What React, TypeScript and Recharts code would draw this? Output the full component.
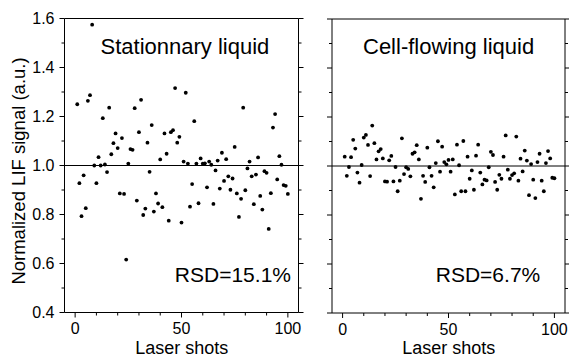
import React from 'react';
import { ScatterChart, Scatter, XAxis, YAxis, ReferenceLine } from 'recharts';

const FONT = '"Liberation Sans", Arial, Helvetica, sans-serif';

const shots = [
  1, 2, 3, 4, 5, 6, 7, 8, 9, 10, 11, 12, 13, 14, 15, 16, 17, 18, 19, 20,
  21, 22, 23, 24, 25, 26, 27, 28, 29, 30, 31, 32, 33, 34, 35, 36, 37, 38, 39, 40,
  41, 42, 43, 44, 45, 46, 47, 48, 49, 50, 51, 52, 53, 54, 55, 56, 57, 58, 59, 60,
  61, 62, 63, 64, 65, 66, 67, 68, 69, 70, 71, 72, 73, 74, 75, 76, 77, 78, 79, 80,
  81, 82, 83, 84, 85, 86, 87, 88, 89, 90, 91, 92, 93, 94, 95, 96, 97, 98, 99, 100,
];

const stationaryValues = [
  1.25, 0.928, 0.793, 0.96, 0.826, 1.264, 1.287, 1.575, 1.0, 0.928,
  1.034, 1.0, 1.193, 1.004, 0.973, 1.236, 1.046, 1.091, 1.131, 1.071,
  0.886, 1.112, 0.884, 0.616, 1.008, 1.067, 1.064, 1.234, 0.857, 1.136,
  1.268, 0.798, 0.824, 1.093, 0.974, 1.165, 0.812, 0.886, 0.845, 1.025,
  0.83, 1.131, 1.048, 0.775, 1.136, 1.144, 1.316, 1.093, 1.117, 0.767,
  1.016, 1.297, 1.008, 0.832, 0.924, 1.181, 1.008, 0.846, 1.029, 1.008,
  1.009, 0.911, 1.016, 1.003, 0.843, 0.98, 1.02, 0.906, 1.052, 0.937,
  1.026, 0.956, 0.901, 0.947, 1.076, 0.886, 0.79, 0.864, 1.236, 0.899,
  0.988, 1.016, 0.956, 0.842, 0.963, 1.033, 0.876, 0.82, 0.977, 0.97,
  0.741, 0.887, 1.155, 1.21, 0.943, 1.038, 1.003, 0.92, 0.917, 0.884,
];

const flowingValues = [
  1.038, 0.96, 0.996, 1.036, 1.107, 1.071, 0.973, 0.932, 1.004, 1.116,
  1.127, 1.086, 0.959, 1.165, 1.093, 1.027, 1.06, 1.069, 1.031, 0.937,
  0.936, 1.023, 1.041, 0.937, 0.996, 0.897, 0.94, 1.113, 0.967, 0.995,
  0.988, 0.958, 1.05, 1.056, 1.085, 1.027, 0.866, 0.96, 0.935, 1.075,
  0.995, 0.96, 0.913, 1.012, 1.101, 0.977, 1.079, 1.016, 1.007, 1.025,
  0.977, 1.027, 0.884, 1.087, 1.003, 0.897, 1.102, 0.897, 1.038, 0.948,
  0.982, 0.903, 1.042, 1.087, 0.973, 0.925, 0.944, 0.941, 0.995, 1.058,
  1.045, 0.935, 0.903, 0.964, 0.948, 1.038, 1.125, 0.985, 0.948, 0.963,
  0.97, 1.12, 0.94, 1.03, 0.978, 1.063, 1.022, 0.881, 1.008, 0.944,
  0.869, 1.016, 1.05, 0.94, 0.897, 1.012, 1.061, 1.031, 0.952, 0.95,
];

const xTicks = [0, 10, 20, 30, 40, 50, 60, 70, 80, 90, 100];
const yTicks = [0.4, 0.5, 0.6, 0.7, 0.8, 0.9, 1.0, 1.1, 1.2, 1.3, 1.4, 1.5, 1.6];
const xDomain = [-5, 105];
const yDomain = [0.4, 1.6];
const panelTitles = ['Stationnary liquid', 'Cell-flowing liquid'];
const rsdLabels = ['RSD=15.1%', 'RSD=6.7%'];
const xAxisTitle = 'Laser shots';
const yAxisTitle = 'Normalized LIF signal (a.u.)';

const XTick = (props: any) => {
  const { x, y, payload, dir, showLabel, color } = props;
  const major = payload.value % 50 === 0;
  const len = major ? 5 : 3;
  return (
    <g>
      <line x1={x} x2={x} y1={y} y2={y + dir * len} stroke={color} strokeWidth={1} />
      {showLabel && major && (
        <text x={x} y={y + 21.5} textAnchor="middle" fontFamily={FONT} fontSize={16} fill="#000">
          {payload.value}
        </text>
      )}
    </g>
  );
};

const YTick = (props: any) => {
  const { x, y, payload, dir, showLabel, color } = props;
  const major = Math.round(payload.value * 10) % 2 === 0;
  const len = major ? 5 : 3;
  return (
    <g>
      <line x1={x} x2={x + dir * len} y1={y} y2={y} stroke={color} strokeWidth={1} />
      {showLabel && major && (
        <text x={x - 10} y={y} dy="0.36em" textAnchor="end" fontFamily={FONT} fontSize={16} fill="#000">
          {payload.value.toFixed(1)}
        </text>
      )}
    </g>
  );
};

const Dot = (p: any) => <circle cx={p.cx} cy={p.cy} r={1.9} fill="#000" />;

function Panel(props: any) {
  const { values, width, margin, showYLabels, yWidth, color, left } = props;
  const data = shots.map((s, i) => ({ x: s, y: values[i] }));
  return (
    <div style={{ position: 'absolute', left, top: 0 }}>
      <ScatterChart width={width} height={358} margin={margin}>
        <XAxis
          dataKey="x"
          type="number"
          domain={xDomain}
          ticks={xTicks}
          interval={0}
          height={30}
          tickSize={0}
          tickMargin={0}
          tickLine={false}
          axisLine={{ stroke: color }}
          allowDataOverflow
          tick={(p: any) => <XTick {...p} dir={1} showLabel color={color} />}
        />
        <XAxis
          xAxisId="top"
          orientation="top"
          type="number"
          domain={xDomain}
          ticks={xTicks}
          interval={0}
          height={10}
          tickSize={0}
          tickMargin={0}
          tickLine={false}
          axisLine={{ stroke: color }}
          allowDataOverflow
          tick={(p: any) => <XTick {...p} dir={-1} color={color} />}
        />
        <YAxis
          dataKey="y"
          type="number"
          domain={yDomain}
          ticks={yTicks}
          interval={0}
          width={yWidth}
          tickSize={0}
          tickMargin={0}
          tickLine={false}
          axisLine={{ stroke: color }}
          allowDataOverflow
          tick={(p: any) => <YTick {...p} dir={-1} showLabel={showYLabels} color={color} />}
        />
        <YAxis
          yAxisId="right"
          orientation="right"
          type="number"
          domain={yDomain}
          ticks={yTicks}
          interval={0}
          width={props.rightWidth}
          tickSize={0}
          tickMargin={0}
          tickLine={false}
          axisLine={{ stroke: color }}
          allowDataOverflow
          tick={(p: any) => <YTick {...p} dir={1} color={color} />}
        />
        <ReferenceLine y={1} stroke={color} strokeWidth={1} ifOverflow="extendDomain" />
        <Scatter data={data} isAnimationActive={false} shape={Dot} />
      </ScatterChart>
    </div>
  );
}

export default function App() {
  return (
    <div style={{ position: 'absolute', left: 0, top: 0, width: 569, height: 358, background: '#fff', overflow: 'hidden' }}>
      <Panel
        values={stationaryValues}
        left={0}
        width={310}
        yWidth={45}
        rightWidth={10}
        showYLabels
        color="#000"
        margin={{ top: 8.5, right: 1.5, bottom: 15.5, left: 19.5 }}
      />
      <Panel
        values={flowingValues}
        left={310}
        width={259}
        yWidth={20}
        rightWidth={3}
        showYLabels={false}
        color="#000"
        margin={{ top: 9, right: 1, bottom: 15, left: 2 }}
      />
      <svg width={569} height={358} style={{ position: 'absolute', left: 0, top: 0, pointerEvents: 'none' }}>
        <text x={100.5} y={53.5} fontFamily={FONT} fontSize={22} fill="#000">{panelTitles[0]}</text>
        <text x={363} y={53.5} fontFamily={FONT} fontSize={22} fill="#000">{panelTitles[1]}</text>
        <text x={291} y={281.5} textAnchor="end" fontFamily={FONT} fontSize={21} fill="#000">{rsdLabels[0]}</text>
        <text x={488} y={281.5} textAnchor="middle" fontFamily={FONT} fontSize={21} fill="#000">{rsdLabels[1]}</text>
        <text x={181.7} y={354} textAnchor="middle" fontFamily={FONT} fontSize={18} fill="#000">{xAxisTitle}</text>
        <text x={448.7} y={354} textAnchor="middle" fontFamily={FONT} fontSize={18} fill="#000">{xAxisTitle}</text>
        <text
          x={0}
          y={0}
          transform="translate(24.5 171) rotate(-90)"
          textAnchor="middle"
          fontFamily={FONT}
          fontSize={18.5}
          fill="#000"
        >
          {yAxisTitle}
        </text>
      </svg>
    </div>
  );
}
